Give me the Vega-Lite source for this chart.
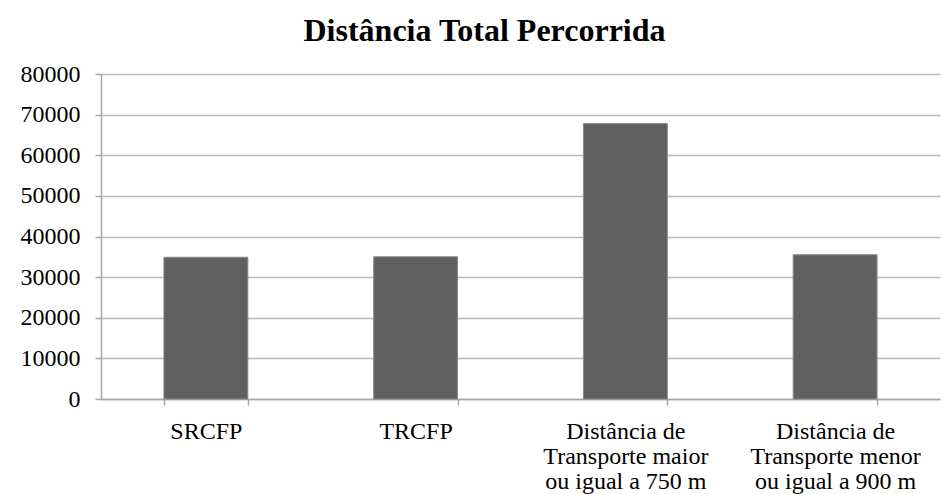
{
  "$schema": "https://vega.github.io/schema/vega-lite/v6.json",
  "autosize": "none",
  "width": 839,
  "height": 325,
  "padding": {"left": 101, "top": 74, "right": 2, "bottom": 95},
  "background": "white",
  "title": {
    "text": "Distância Total Percorrida",
    "font": "Liberation Serif",
    "fontSize": 32,
    "fontWeight": "bold",
    "color": "black",
    "anchor": "middle",
    "dx": -36,
    "offset": 14
  },
  "data": {
    "values": [
      {"categoria": "SRCFP", "distancia": 34900},
      {"categoria": "TRCFP", "distancia": 35000},
      {"categoria": "Distância de Transporte maior ou igual a 750 m", "distancia": 67800},
      {"categoria": "Distância de Transporte menor ou igual a 900 m", "distancia": 35500}
    ]
  },
  "mark": {"type": "bar", "color": "#606060", "stroke": "#8a8a8a", "strokeWidth": 1},
  "encoding": {
    "x": {
      "field": "categoria",
      "type": "nominal",
      "sort": null,
      "scale": {"paddingInner": 0.6, "paddingOuter": 0.3},
      "axis": {
        "title": null,
        "labelAngle": 0,
        "labelFont": "Liberation Serif",
        "labelFontSize": 24,
        "labelColor": "black",
        "labelLineHeight": 25,
        "labelPadding": 14,
        "labelExpr": "split(replace(replace(datum.label, 'de Transporte', 'de|Transporte'), ' ou ', '|ou '), '|')",
        "tickBand": "extent",
        "tickSize": 6,
        "tickColor": "#a6a6a6",
        "tickWidth": 1.5,
        "domainColor": "#a6a6a6",
        "domainWidth": 1.5,
        "grid": false
      }
    },
    "y": {
      "field": "distancia",
      "type": "quantitative",
      "scale": {"domain": [0, 80000], "nice": false},
      "axis": {
        "title": null,
        "values": [0, 10000, 20000, 30000, 40000, 50000, 60000, 70000, 80000],
        "format": "d",
        "labelFont": "Liberation Serif",
        "labelFontSize": 24,
        "labelColor": "black",
        "labelPadding": 15,
        "tickSize": 6,
        "tickColor": "#a6a6a6",
        "tickWidth": 1.5,
        "domainColor": "#a6a6a6",
        "domainWidth": 1.5,
        "grid": true,
        "gridColor": "#b8b8b8",
        "gridWidth": 1.5
      }
    }
  },
  "config": {"view": {"stroke": null}}
}
